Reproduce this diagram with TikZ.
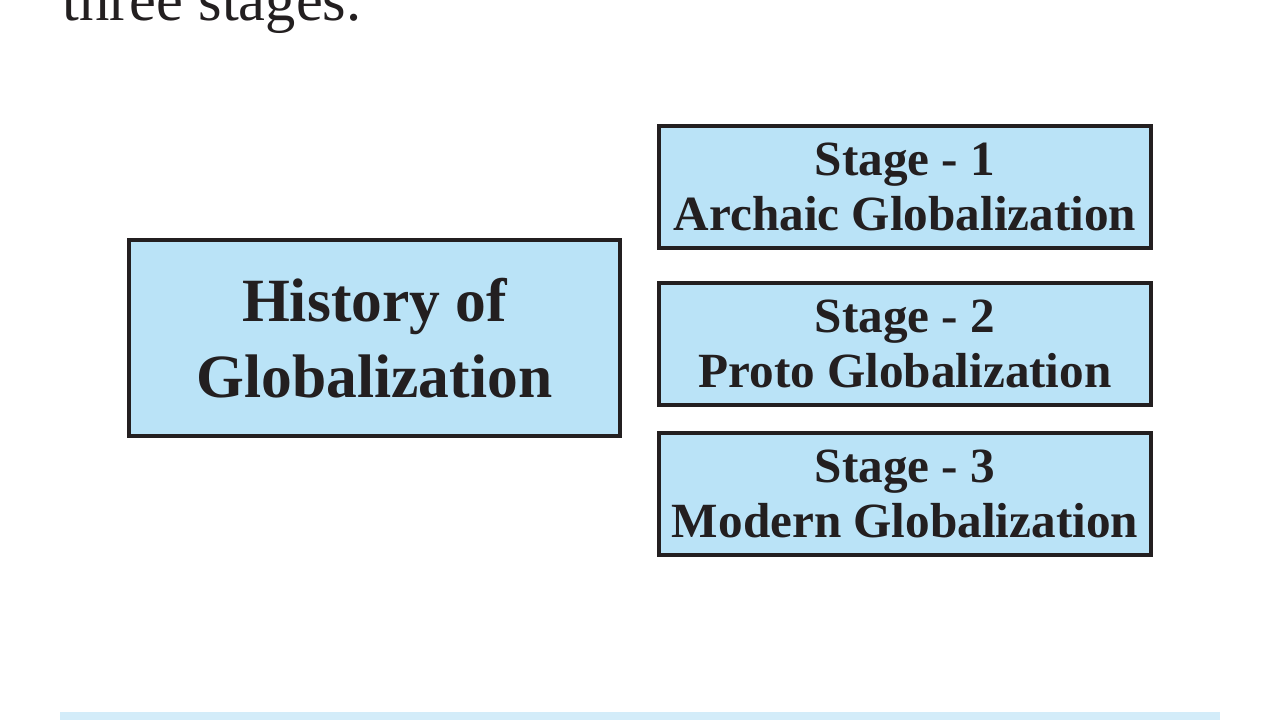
\documentclass[tikz,border=0pt]{standalone}
\usepackage{fontspec}
\setmainfont{Liberation Serif}
\usetikzlibrary{calc,positioning}
\definecolor{boxblue}{HTML}{BAE3F7}
\definecolor{stripblue}{HTML}{D3ECF9}
\definecolor{inkblack}{HTML}{231F20}

\begin{document}
\begin{tikzpicture}[
  histbox/.style={draw=inkblack, line width=1.1pt, fill=boxblue, text=inkblack,
    minimum width=4.91cm, minimum height=1.96cm, inner sep=0pt, align=center,
    font=\bfseries\fontsize{17.5}{21.8}\selectfont},
  stagebox/.style={draw=inkblack, line width=1.1pt, fill=boxblue, text=inkblack,
    minimum width=4.92cm, minimum height=1.22cm, inner sep=0pt, align=center,
    font=\bfseries\fontsize{14}{15.6}\selectfont}
]
\useasboundingbox (0,0) rectangle (12.8,7.2);

\coordinate (h_c) at (3.745,3.82);
\coordinate (s_c) at (9.05,5.33);

% line of text above, cut by the page edge
\node (intro) [anchor=base west, inner sep=0pt, text=inkblack,
  font=\fontsize{17.2}{21}\selectfont] at (0.62,6.99) {three stages.};

\node (hist) [histbox] at (h_c) {History of\\Globalization};

\node (stage_a) [stagebox] at (s_c) {Stage - 1\\Archaic Globalization};
\node (stage_b) [stagebox, below=0.31cm of stage_a] {Stage - 2\\Proto Globalization};
\node (stage_c) [stagebox, below=0.24cm of stage_b] {Stage - 3\\Modern Globalization};

%\draw (hist.east) -- (stage_b.west);
\fill [stripblue] (0.6,0) rectangle (12.2,0.08);

\end{tikzpicture}
\end{document}
